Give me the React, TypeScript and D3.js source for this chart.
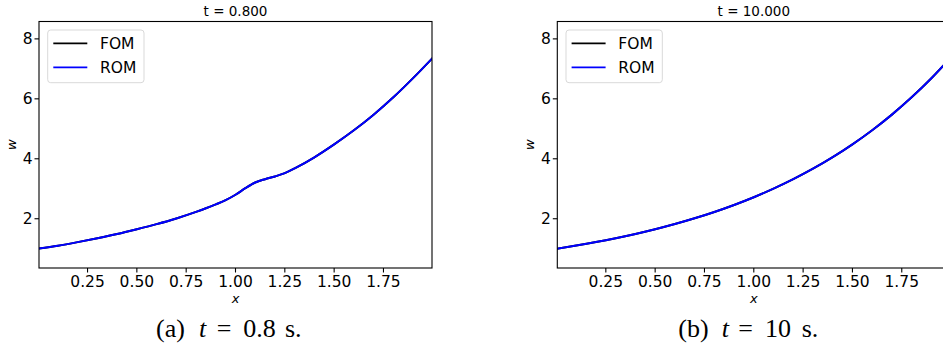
import React from "react";
import * as d3 from "d3";

// t = 0.8 s
const xA = [0.0, 0.1, 0.2, 0.3, 0.4, 0.5, 0.6, 0.7, 0.8, 0.85, 0.9, 0.95, 1.0, 1.05, 1.1, 1.15, 1.2, 1.25, 1.3, 1.4, 1.5, 1.6, 1.7, 1.8, 1.9, 2.0];
const wA = [1.0, 1.1, 1.22, 1.35, 1.49, 1.65, 1.82, 2.01, 2.23, 2.35, 2.48, 2.62, 2.8, 3.02, 3.21, 3.32, 3.41, 3.52, 3.68, 4.05, 4.48, 4.95, 5.47, 6.05, 6.69, 7.37];
// t = 10 s
const xB = [0.0, 0.1, 0.2, 0.3, 0.4, 0.5, 0.6, 0.7, 0.8, 0.9, 1.0, 1.1, 1.2, 1.3, 1.4, 1.5, 1.6, 1.7, 1.8, 1.9, 2.0];
const wB = [1.0, 1.105, 1.221, 1.35, 1.492, 1.649, 1.822, 2.014, 2.226, 2.46, 2.718, 3.004, 3.32, 3.669, 4.055, 4.482, 4.953, 5.474, 6.05, 6.686, 7.389];

const xTicks = [0.25, 0.5, 0.75, 1.0, 1.25, 1.5, 1.75];
const yTicks = [2, 4, 6, 8];
const titles = ["t = 0.800", "t = 10.000"];
const captionParts = [
  ["(a)", "t", "=", "0.8", "s."],
  ["(b)", "t", "=", "10", "s."],
];
const legendLabels = ["FOM", "ROM"];
const legendColors = ["#000000", "#0000ff"];

const W = 943;
const H = 348;
const PW = 393;
const TOP = 21.5;
const BOT = 268;
const lefts = [39, 557.3];
// left x of each caption piece
const capX = [
  [156, 199, 216.7, 243.3, 285],
  [678.3, 721.7, 738.3, 765, 801.7],
];

const sans = "DejaVu Sans, sans-serif";
const serif = "Liberation Serif, DejaVu Serif, serif";

function Panel({ idx, xs, ws }: { idx: number; xs: number[]; ws: number[] }) {
  const L = lefts[idx];
  const x = d3.scaleLinear().domain([0.004, 1.996]).range([L, L + PW]);
  const y = d3.scaleLinear().domain([0.357, 8.58]).range([BOT, TOP]);
  const pts = xs.map((v, i) => [v, ws[i]] as [number, number]);
  const line = d3
    .line<[number, number]>()
    .x((d) => x(d[0]))
    .y((d) => y(d[1]))
    .curve(d3.curveMonotoneX);
  const path = line(pts) || "";
  const cid = `clip${idx}`;
  const cx = L + PW / 2;
  return (
    <g>
      <defs>
        <clipPath id={cid}>
          <rect x={L} y={TOP} width={PW} height={BOT - TOP} />
        </clipPath>
      </defs>
      <text x={cx} y={16} textAnchor="middle" fontFamily={sans} fontSize={13.5} fill="#000">
        {titles[idx]}
      </text>
      <g clipPath={`url(#${cid})`}>
        <path d={path} fill="none" stroke={legendColors[0]} strokeWidth={2} />
        <path d={path} fill="none" stroke={legendColors[1]} strokeWidth={2} />
      </g>
      <rect x={L} y={TOP} width={PW} height={BOT - TOP} fill="none" stroke="#000" strokeWidth={1.1} />
      {xTicks.map((t) => (
        <g key={t}>
          <line x1={x(t)} x2={x(t)} y1={BOT} y2={BOT + 4.5} stroke="#000" strokeWidth={1.1} />
          <text x={x(t)} y={287} textAnchor="middle" fontFamily={sans} fontSize={15.5} fill="#000">
            {t.toFixed(2)}
          </text>
        </g>
      ))}
      {yTicks.map((t) => (
        <g key={t}>
          <line x1={L - 4.5} x2={L} y1={y(t)} y2={y(t)} stroke="#000" strokeWidth={1.1} />
          <text x={L - 6.5} y={y(t)} dy="0.36em" textAnchor="end" fontFamily={sans} fontSize={15.5} fill="#000">
            {t}
          </text>
        </g>
      ))}
      <text x={cx} y={303} textAnchor="middle" fontFamily={sans} fontStyle="italic" fontSize={13} fill="#000">
        x
      </text>
      <text
        transform={`translate(${L - 23},${(TOP + BOT) / 2}) rotate(-90)`}
        textAnchor="middle"
        fontFamily={sans}
        fontStyle="italic"
        fontSize={13}
        fill="#000"
      >
        w
      </text>
      {/* legend */}
      <rect x={L + 8.7} y={30} width={96.3} height={52.7} rx={3} fill="#fff" stroke="#d9d9d9" strokeWidth={1} />
      {legendLabels.map((lab, i) => (
        <g key={lab}>
          <line x1={L + 14.3} x2={L + 48.3} y1={43.3 + i * 24} y2={43.3 + i * 24} stroke={legendColors[i]} strokeWidth={1.8} />
          <text x={L + 61} y={43.3 + i * 24} dy="0.36em" fontFamily={sans} fontSize={15.5} fill="#000">
            {lab}
          </text>
        </g>
      ))}
      {captionParts[idx].map((p, i) => (
        <text
          key={i}
          x={capX[idx][i]}
          y={337}
          fontFamily={serif}
          fontStyle={i === 1 ? "italic" : "normal"}
          fontSize={26}
          fill="#000"
        >
          {p}
        </text>
      ))}
    </g>
  );
}

export default function App() {
  return (
    <svg
      width={W}
      height={H}
      style={{ position: "absolute", left: 0, top: 0, background: "#fff" }}
    >
      <rect x={0} y={0} width={W} height={H} fill="#fff" />
      <Panel idx={0} xs={xA} ws={wA} />
      <Panel idx={1} xs={xB} ws={wB} />
    </svg>
  );
}
